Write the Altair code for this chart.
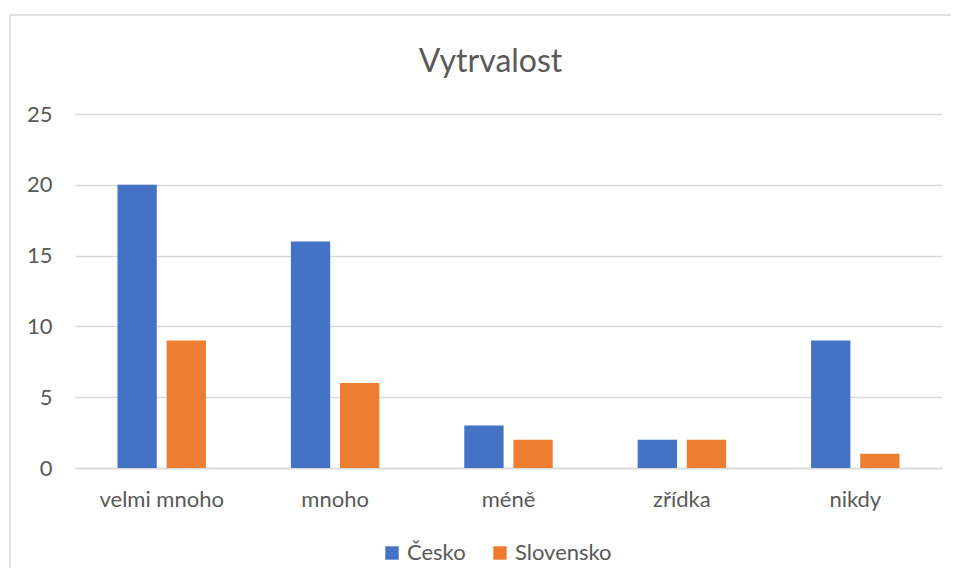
import altair as alt
import pandas as pd

categories = ["velmi mnoho", "mnoho", "méně", "zřídka", "nikdy"]
series = ["Česko", "Slovensko"]
cesko = [20, 16, 3, 2, 9]
slovensko = [9, 6, 2, 2, 1]
colors = ["#4472C4", "#ED7D31"]
title_text = "Vytrvalost"

rows = []
for c, a, b in zip(categories, cesko, slovensko):
    rows.append({"kat": c, "zeme": series[0], "hodnota": a})
    rows.append({"kat": c, "zeme": series[1], "hodnota": b})
df = pd.DataFrame(rows)

FONT = "Lato"
TXT = "#595959"

bars = alt.Chart(df).mark_bar().encode(
    x=alt.X("kat:N", sort=categories,
            scale=alt.Scale(paddingInner=0.49, paddingOuter=0.245),
            axis=alt.Axis(title=None, labelAngle=0, ticks=False, domain=True,
                          domainColor="#D9D9D9", domainWidth=1.3,
                          labelFont=FONT, labelFontSize=22, labelColor=TXT,
                          labelPadding=21)),
    xOffset=alt.XOffset("zeme:N", sort=series,
                        scale=alt.Scale(paddingInner=0.2, paddingOuter=0)),
    y=alt.Y("hodnota:Q", scale=alt.Scale(domain=[0, 25]),
            axis=alt.Axis(title=None, values=[0, 5, 10, 15, 20, 25], ticks=False,
                          domain=False, grid=True, gridColor="#D9D9D9",
                          gridWidth=1.3, labelFont=FONT, labelFontSize=22,
                          labelColor=TXT, labelPadding=23)),
    color=alt.Color("zeme:N", sort=series,
                    scale=alt.Scale(domain=series, range=colors),
                    legend=alt.Legend(title=None, orient="none", direction="horizontal",
                                      legendX=306, legendY=428, symbolType="square",
                                      symbolSize=180, symbolStrokeWidth=0,
                                      labelFont=FONT, labelFontSize=22,
                                      labelColor=TXT, columnPadding=23,
                                      labelOffset=4)),
)

one = alt.Data(values=[{}])
frame_top = alt.Chart(one).mark_rule(color="#D9D9D9", strokeWidth=1.5).encode(
    x=alt.value(-65), x2=alt.value(876), y=alt.value(-99),
)
frame_left = alt.Chart(one).mark_rule(color="#D9D9D9", strokeWidth=1.5).encode(
    x=alt.value(-65), y=alt.value(-99), y2=alt.value(460),
)

chart = alt.layer(frame_top, frame_left, bars).properties(
    width=867, height=354,
    title=alt.Title(title_text, font=FONT, fontSize=32, fontWeight="normal",
                    color=TXT, anchor="middle", dx=-18, offset=-65),
    autosize=alt.AutoSizeParams(type="none"),
    padding={"left": 67, "top": 106, "right": 9, "bottom": 100},
).configure_view(stroke=None)

chart.save("out.html", embed_options={"renderer": "svg", "actions": False})
